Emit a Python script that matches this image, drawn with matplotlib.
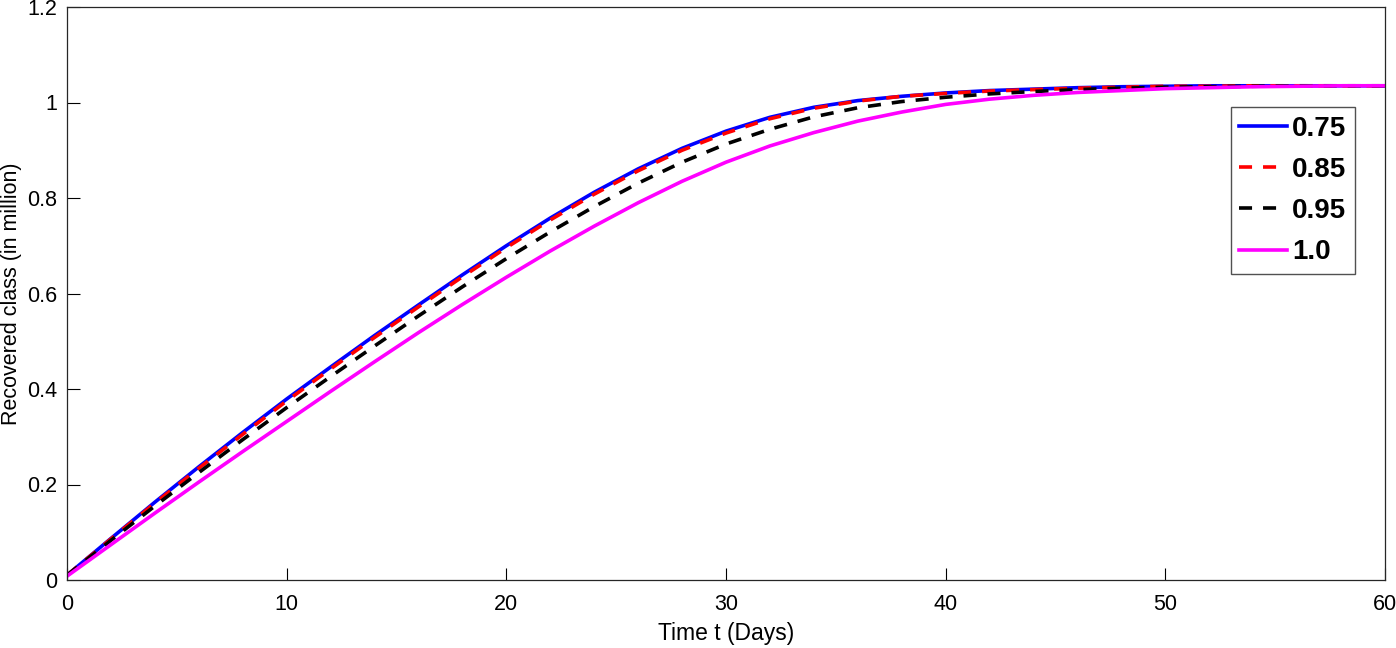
import matplotlib
matplotlib.use("Agg")
import matplotlib.pyplot as plt

plt.rcParams['font.family'] = ['Liberation Sans', 'DejaVu Sans']
plt.rcParams['lines.scale_dashes'] = False

t = list(range(0, 61, 2))

r_075 = [0.010, 0.087, 0.163, 0.237, 0.309, 0.379, 0.446, 0.512, 0.576, 0.639,
         0.700, 0.758, 0.812, 0.861, 0.904, 0.940, 0.969, 0.990, 1.004, 1.013,
         1.020, 1.025, 1.028, 1.031, 1.033, 1.034, 1.035, 1.035, 1.035, 1.035,
         1.035]
r_085 = [0.010, 0.086, 0.161, 0.234, 0.305, 0.375, 0.442, 0.508, 0.572, 0.635,
         0.696, 0.754, 0.808, 0.857, 0.900, 0.936, 0.966, 0.988, 1.003, 1.013,
         1.019, 1.024, 1.027, 1.030, 1.032, 1.034, 1.034, 1.035, 1.035, 1.035,
         1.035]
r_095 = [0.010, 0.083, 0.155, 0.225, 0.294, 0.361, 0.426, 0.490, 0.553, 0.614,
         0.673, 0.729, 0.782, 0.831, 0.875, 0.913, 0.944, 0.970, 0.989, 1.002,
         1.011, 1.018, 1.023, 1.027, 1.030, 1.032, 1.033, 1.034, 1.035, 1.035,
         1.035]
r_100 = [0.008, 0.074, 0.140, 0.205, 0.269, 0.332, 0.395, 0.457, 0.518, 0.577,
         0.634, 0.689, 0.741, 0.790, 0.835, 0.875, 0.909, 0.937, 0.961, 0.980,
         0.996, 1.007, 1.015, 1.021, 1.025, 1.029, 1.031, 1.033, 1.034, 1.035,
         1.035]

labels = ['0.75', '0.85', '0.95', '1.0']
xticks = [0, 10, 20, 30, 40, 50, 60]
yticks = [0, 0.2, 0.4, 0.6, 0.8, 1.0, 1.2]
yticklabels = ['0', '0.2', '0.4', '0.6', '0.8', '1', '1.2']

fig = plt.figure(figsize=(13.96, 6.48), dpi=100)
ax = fig.add_axes([67/1396, 68/648, 1318/1396, 573/648])

dash = (9.4, 7.9)
ax.plot(t, r_075, color='#0000ff', lw=2.6, label=labels[0])
ax.plot(t, r_085, color='#ff0000', lw=2.6, dashes=dash, label=labels[1])
ax.plot(t, r_095, color='#000000', lw=2.6, dashes=dash, label=labels[2])
ax.plot(t, r_100, color='#ff00ff', lw=2.6, label=labels[3])

ax.set_xlim(0, 60)
ax.set_ylim(0, 1.2)
ax.set_xticks(xticks)
ax.set_xticklabels([str(v) for v in xticks])
ax.set_yticks(yticks)
ax.set_yticklabels(yticklabels)
ax.tick_params(direction='in', length=9, width=0.8, labelsize=15.5, colors='#000000',
               top=False, right=False)
ax.tick_params(axis='x', pad=10)
ax.tick_params(axis='y', pad=7)
for s in ax.spines.values():
    s.set_color('#262626')
    s.set_linewidth(0.9)

ax.set_xlabel('Time t (Days)', fontsize=16.5, labelpad=5)
ax.set_ylabel('Recovered class (in million)', fontsize=15.5)
ax.yaxis.set_label_coords(-0.0345, 0.5)

leg = ax.legend(loc='upper right', bbox_to_anchor=(0.977, 0.825),
                prop={'weight': 'bold', 'size': 20}, frameon=True, fancybox=False,
                edgecolor='#262626', handlelength=1.7, handletextpad=0.2,
                borderpad=0.3, labelspacing=0.55, borderaxespad=0)
leg.get_frame().set_linewidth(1.0)

fig.savefig('out.png', dpi=100, facecolor='white')
